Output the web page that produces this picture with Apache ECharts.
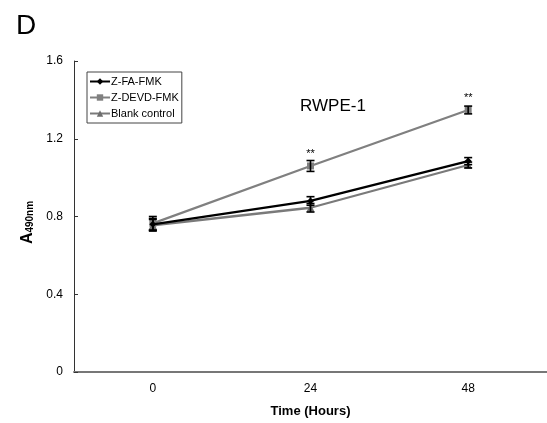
<!DOCTYPE html>
<html>
<head>
<meta charset="utf-8">
<script src="https://cdn.jsdelivr.net/npm/echarts@6/dist/echarts.min.js"></script>
<style>
  html, body { margin: 0; padding: 0; background: #fff; }
  #chart { width: 547px; height: 423px; }
</style>
</head>
<body>
<div id="chart"></div>
<script>
// Time points (hours)
const hours = ['0', '24', '48'];

// Mean absorbance at 490 nm for each treatment
const faFmk = [0.76, 0.88, 1.085];
const devdFmk = [0.765, 1.06, 1.348];
const blankCtrl = [0.755, 0.845, 1.065];

// Standard error for each point
const faErr = [0.03, 0.022, 0.018];
const devdErr = [0.035, 0.028, 0.02];
const blankErr = [0.03, 0.022, 0.015];

// Significance markers on the Z-DEVD-FMK series
const devdStars = ['', '**', '**'];

const yTicks = [0, 0.4, 0.8, 1.2, 1.6];

const chart = echarts.init(document.getElementById('chart'));

function errorSeries(name, means, errs, z) {
  return {
    type: 'custom',
    name: name + ' err',
    z: z,
    silent: true,
    data: means.map((m, i) => [i, m - errs[i], m + errs[i]]),
    renderItem: function (params, api) {
      const lo = api.coord([api.value(0), api.value(1)]);
      const hi = api.coord([api.value(0), api.value(2)]);
      const w = 4;
      const style = { stroke: '#000', lineWidth: 1.6 };
      return {
        type: 'group',
        children: [
          { type: 'line', shape: { x1: hi[0], y1: hi[1], x2: lo[0], y2: lo[1] }, style: style },
          { type: 'line', shape: { x1: hi[0] - w, y1: hi[1], x2: hi[0] + w, y2: hi[1] }, style: style },
          { type: 'line', shape: { x1: lo[0] - w, y1: lo[1], x2: lo[0] + w, y2: lo[1] }, style: style }
        ]
      };
    }
  };
}

chart.setOption({
  animation: false,
  backgroundColor: '#fff',
  textStyle: { fontFamily: 'Liberation Sans, Arial, sans-serif' },
  title: [
    {
      text: 'D',
      left: 11,
      top: 7,
      textStyle: { fontSize: 28, fontWeight: 'normal', color: '#000' }
    },
    {
      text: 'RWPE-1',
      left: 328,
      top: 93,
      textAlign: 'center',
      textStyle: { fontSize: 17, fontWeight: 'normal', color: '#000' }
    }
  ],
  legend: {
    left: 87,
    top: 72,
    orient: 'vertical',
    itemGap: 5,
    itemWidth: 20,
    itemHeight: 8,
    padding: [4, 3, 4, 2],
    borderColor: '#444',
    borderWidth: 1,
    textStyle: { fontSize: 11, color: '#000', padding: [0, 0, 0, -4] },
    data: ['Z-FA-FMK', 'Z-DEVD-FMK', 'Blank control']
  },
  grid: { left: 74, right: 0, top: 61, bottom: 51, containLabel: false },
  xAxis: {
    type: 'category',
    data: hours,
    boundaryGap: true,
    name: 'Time (Hours)',
    nameLocation: 'middle',
    nameGap: 33,
    nameTextStyle: { fontSize: 13, fontWeight: 'bold', color: '#000' },
    axisLine: { lineStyle: { color: '#777', width: 2 } },
    axisTick: { show: false },
    axisLabel: { fontSize: 12, color: '#000', margin: 11 },
    splitLine: { show: false }
  },
  yAxis: {
    type: 'value',
    min: 0,
    max: 1.6,
    interval: 0.4,
    name: '{a|A}{s|490nm}',
    nameLocation: 'middle',
    nameGap: 38,
    nameRotate: 90,
    nameTextStyle: {
      padding: [0, 0, 0, -12],
      rich: {
        a: { fontSize: 16, fontWeight: 'bold', color: '#000', fontFamily: 'Liberation Sans, Arial, sans-serif' },
        s: { fontSize: 10, fontWeight: 'bold', color: '#000', verticalAlign: 'bottom', padding: [6, 0, 0, 0], fontFamily: 'Liberation Sans, Arial, sans-serif' }
      }
    },
    axisLine: { show: true, lineStyle: { color: '#333', width: 1 } },
    axisTick: { show: true, inside: true, length: 4, lineStyle: { color: '#333' } },
    axisLabel: {
      fontSize: 12,
      color: '#000',
      margin: 11,
      formatter: function (v) {
        const t = yTicks.find(x => Math.abs(x - v) < 1e-9);
        return t === 0 ? '0' : t.toFixed(1);
      }
    },
    splitLine: { show: false }
  },
  series: [
    {
      name: 'Blank control',
      type: 'line',
      data: blankCtrl,
      symbol: 'triangle',
      symbolSize: 8,
      z: 3,
      lineStyle: { color: '#7a7a7a', width: 2.3 },
      itemStyle: { color: '#6e6e6e' }
    },
    {
      name: 'Z-DEVD-FMK',
      type: 'line',
      data: devdFmk.map((v, i) => ({
        value: v,
        label: {
          show: devdStars[i] !== '',
          formatter: devdStars[i],
          position: 'top',
          distance: 3,
          fontSize: 11,
          color: '#000'
        }
      })),
      symbol: 'rect',
      symbolSize: 7,
      z: 3,
      lineStyle: { color: '#808080', width: 2.3 },
      itemStyle: { color: '#808080' }
    },
    {
      name: 'Z-FA-FMK',
      type: 'line',
      data: faFmk,
      symbol: 'diamond',
      symbolSize: 7,
      z: 4,
      lineStyle: { color: '#000', width: 2.3 },
      itemStyle: { color: '#000' }
    },
    errorSeries('Blank control', blankCtrl, blankErr, 5),
    errorSeries('Z-DEVD-FMK', devdFmk, devdErr, 5),
    errorSeries('Z-FA-FMK', faFmk, faErr, 5)
  ]
});
</script>
</body>
</html>
